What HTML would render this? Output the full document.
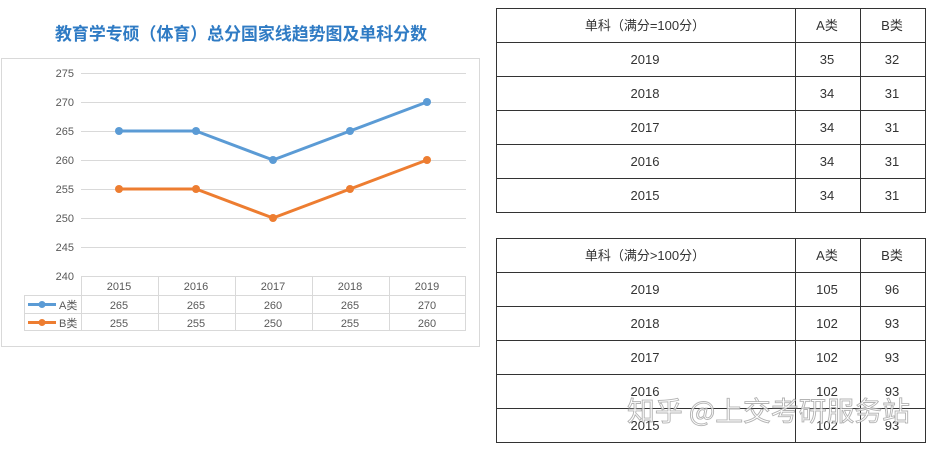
<!DOCTYPE html>
<html><head><meta charset="utf-8"><style>
html,body{margin:0;padding:0;background:#fff;width:932px;height:449px;overflow:hidden}
svg{display:block}
</style></head><body>
<svg width="932" height="449" xmlns="http://www.w3.org/2000/svg" font-family="Liberation Sans, Noto Sans CJK SC, sans-serif">
<text x="241" y="40" text-anchor="middle" font-size="17.5" font-weight="bold" fill="#2f7bc4" font-family="Noto Sans CJK SC, sans-serif" textLength="372" lengthAdjust="spacingAndGlyphs">教育学专硕（体育）总分国家线趋势图及单科分数</text>
<rect x="1.5" y="58.5" width="478" height="288" fill="#fff" stroke="#d9d9d9"/>
<g stroke="#d9d9d9" stroke-width="1">
<line x1="81" y1="73.5" x2="466" y2="73.5"/>
<line x1="81" y1="102.5" x2="466" y2="102.5"/>
<line x1="81" y1="131.5" x2="466" y2="131.5"/>
<line x1="81" y1="160.5" x2="466" y2="160.5"/>
<line x1="81" y1="189.5" x2="466" y2="189.5"/>
<line x1="81" y1="218.5" x2="466" y2="218.5"/>
<line x1="81" y1="247.5" x2="466" y2="247.5"/>
</g>
<g font-size="11" fill="#595959" text-anchor="end">
<text x="74" y="77">275</text><text x="74" y="106">270</text><text x="74" y="135">265</text>
<text x="74" y="164">260</text><text x="74" y="193">255</text><text x="74" y="222">250</text>
<text x="74" y="251">245</text><text x="74" y="280">240</text>
</g>
<g stroke="#d9d9d9" fill="none">
<rect x="81.5" y="276.5" width="384" height="54"/>
<line x1="24" y1="295.5" x2="466" y2="295.5"/>
<line x1="24" y1="313.5" x2="466" y2="313.5"/>
<line x1="24.5" y1="295" x2="24.5" y2="331"/>
<line x1="24" y1="330.5" x2="82" y2="330.5"/>
<line x1="158.5" y1="276" x2="158.5" y2="331"/>
<line x1="235.5" y1="276" x2="235.5" y2="331"/>
<line x1="312.5" y1="276" x2="312.5" y2="331"/>
<line x1="389.5" y1="276" x2="389.5" y2="331"/>
</g>
<g font-size="11" fill="#595959" text-anchor="middle">
<text x="119" y="290">2015</text><text x="196" y="290">2016</text><text x="273" y="290">2017</text><text x="350" y="290">2018</text><text x="427" y="290">2019</text>
<text x="119" y="309">265</text><text x="196" y="309">265</text><text x="273" y="309">260</text><text x="350" y="309">265</text><text x="427" y="309">270</text>
<text x="119" y="327">255</text><text x="196" y="327">255</text><text x="273" y="327">250</text><text x="350" y="327">255</text><text x="427" y="327">260</text>
</g>
<line x1="28" y1="304.5" x2="56" y2="304.5" stroke="#5b9bd5" stroke-width="3"/>
<circle cx="42" cy="304.5" r="3.5" fill="#5b9bd5"/>
<line x1="28" y1="322.5" x2="56" y2="322.5" stroke="#ed7d31" stroke-width="3"/>
<circle cx="42" cy="322.5" r="3.5" fill="#ed7d31"/>
<text x="59" y="309" font-size="11" fill="#595959">A类</text>
<text x="59" y="327" font-size="11" fill="#595959">B类</text>
<polyline points="119,131 196,131 273,160 350,131 427,102" fill="none" stroke="#5b9bd5" stroke-width="3" stroke-linejoin="round"/>
<polyline points="119,189 196,189 273,218 350,189 427,160" fill="none" stroke="#ed7d31" stroke-width="3" stroke-linejoin="round"/>
<g fill="#5b9bd5"><circle cx="119" cy="131" r="4"/><circle cx="196" cy="131" r="4"/><circle cx="273" cy="160" r="4"/><circle cx="350" cy="131" r="4"/><circle cx="427" cy="102" r="4"/></g>
<g fill="#ed7d31"><circle cx="119" cy="189" r="4"/><circle cx="196" cy="189" r="4"/><circle cx="273" cy="218" r="4"/><circle cx="350" cy="189" r="4"/><circle cx="427" cy="160" r="4"/></g>

<g stroke="#333" stroke-width="1" fill="none">
<rect x="496.5" y="8.5" width="429" height="204"/>
<line x1="496" y1="42.5" x2="926" y2="42.5"/><line x1="496" y1="76.5" x2="926" y2="76.5"/>
<line x1="496" y1="110.5" x2="926" y2="110.5"/><line x1="496" y1="144.5" x2="926" y2="144.5"/>
<line x1="496" y1="178.5" x2="926" y2="178.5"/>
<line x1="795.5" y1="8" x2="795.5" y2="212"/><line x1="860.5" y1="8" x2="860.5" y2="212"/>
<rect x="496.5" y="238.5" width="429" height="204"/>
<line x1="496" y1="272.5" x2="926" y2="272.5"/><line x1="496" y1="306.5" x2="926" y2="306.5"/>
<line x1="496" y1="340.5" x2="926" y2="340.5"/><line x1="496" y1="374.5" x2="926" y2="374.5"/>
<line x1="496" y1="408.5" x2="926" y2="408.5"/>
<line x1="795.5" y1="238" x2="795.5" y2="442"/><line x1="860.5" y1="238" x2="860.5" y2="442"/>
</g>
<g font-size="13" fill="#333" text-anchor="middle">
<text x="645" y="30">单科（满分=100分）</text><text x="827" y="30">A类</text><text x="892" y="30">B类</text>
<text x="645" y="64">2019</text><text x="827" y="64">35</text><text x="892" y="64">32</text>
<text x="645" y="98">2018</text><text x="827" y="98">34</text><text x="892" y="98">31</text>
<text x="645" y="132">2017</text><text x="827" y="132">34</text><text x="892" y="132">31</text>
<text x="645" y="166">2016</text><text x="827" y="166">34</text><text x="892" y="166">31</text>
<text x="645" y="200">2015</text><text x="827" y="200">34</text><text x="892" y="200">31</text>
<text x="645" y="260">单科（满分&gt;100分）</text><text x="827" y="260">A类</text><text x="892" y="260">B类</text>
<text x="645" y="294">2019</text><text x="827" y="294">105</text><text x="892" y="294">96</text>
<text x="645" y="328">2018</text><text x="827" y="328">102</text><text x="892" y="328">93</text>
<text x="645" y="362">2017</text><text x="827" y="362">102</text><text x="892" y="362">93</text>
<text x="645" y="396">2016</text><text x="827" y="396">102</text><text x="892" y="396">93</text>
<text x="645" y="430">2015</text><text x="827" y="430">102</text><text x="892" y="430">93</text>
</g>
<text x="627" y="421" font-size="27" fill="#fff" fill-opacity="0.75" stroke="#999" stroke-opacity="0.75" stroke-width="0.9" font-family="Noto Sans CJK SC, sans-serif" textLength="283" lengthAdjust="spacingAndGlyphs">知乎 @上交考研服务站</text>
</svg>
</body></html>
